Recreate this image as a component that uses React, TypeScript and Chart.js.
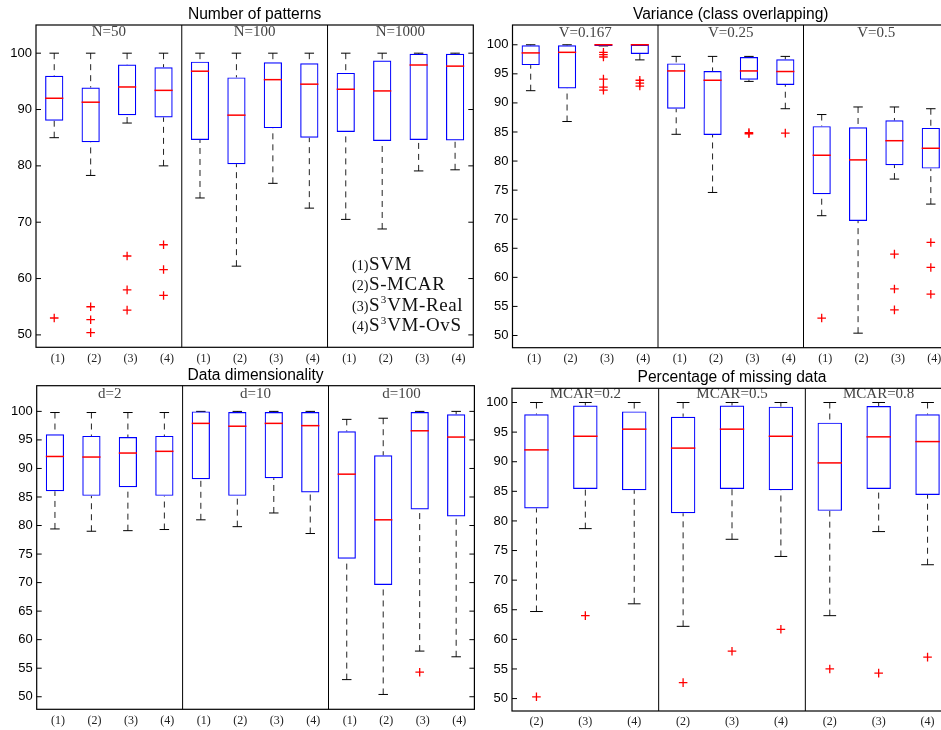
import { useEffect, useRef } from 'react';
import { Chart, registerables } from 'chart.js';

Chart.register(...registerables);

const SERIF = '"Liberation Serif", "DejaVu Serif", serif';
const SANS = '"Liberation Sans", Arial, sans-serif';

// tick labels under the boxes
const methodLabels = ['(1)', '(2)', '(3)', '(4)'];
const missingLabels = ['(2)', '(3)', '(4)'];
const ticksBy10 = [50, 60, 70, 80, 90, 100];
const ticksBy5 = [50, 55, 60, 65, 70, 75, 80, 85, 90, 95, 100];

// legend of the methods
const legendNums = ['(1)', '(2)', '(3)', '(4)'];
const legendBase = ['SVM', 'S-MCAR', 'S', 'S'];
const legendSup = ['', '', '3', '3'];
const legendRest = ['', '', 'VM-Real', 'VM-OvS'];

// Number of patterns
const patternTitle = 'Number of patterns';
const patternGroups = ['N=50', 'N=100', 'N=1000'];
const patternLow = [85, 78.3, 87.6, 80, 74.3, 62.2, 76.9, 72.5, 70.5, 68.8, 79.1, 79.3];
const patternQ1 = [88, 84.2, 89, 88.6, 84.6, 80.3, 86.7, 85, 86, 84.4, 84.6, 84.5];
const patternMed = [92, 91.3, 94, 93.4, 96.8, 89, 95.3, 94.5, 93.6, 93.3, 97.9, 97.7];
const patternQ3 = [96, 93.9, 98, 97.5, 98.5, 95.7, 98.4, 98.2, 96.5, 98.7, 99.9, 99.9];
const patternHigh = [100, 100, 100, 100, 100, 100, 100, 100, 100, 100, 100, 100];
const patternOut = [[53], [55, 52.7, 50.4], [64, 58, 54.4], [66, 61.6, 57], [], [], [], [], [], [], [], []];

// Variance (class overlapping)
const varTitle = 'Variance (class overlapping)';
const varGroups = ['V=0.167', 'V=0.25', 'V=0.5'];
const varLow = [92.1, 86.8, 99.8, 97.4, 84.6, 74.6, 93.7, 89, 70.6, 50.4, 76.9, 72.6];
const varQ1 = [96.5, 92.5, 99.8, 98.4, 89, 84.5, 94, 93.1, 74.3, 69.7, 79.3, 78.7];
const varMed = [98.6, 98.7, 100, 100, 95.5, 93.9, 95.5, 95.4, 81, 80.2, 83.5, 82.2];
const varQ3 = [99.9, 99.9, 100, 100, 96.8, 95.5, 97.9, 97.5, 86, 85.8, 87, 85.7];
const varHigh = [100, 100, 100, 100, 98, 98, 98, 98, 88, 89.3, 89.3, 89];
const varOut = [[], [], [98.7, 98.3, 97.9, 94.1, 92.7, 92.2], [93.9, 93.4, 92.9], [], [], [84.9, 84.7], [84.8], [53], [], [64, 58, 54.4], [66, 61.7, 57.1]];

// Data dimensionality
const dimTitle = 'Data dimensionality';
const dimGroups = ['d=2', 'd=10', 'd=100'];
const dimLow = [79.4, 79, 79.1, 79.3, 81, 79.8, 82.2, 78.6, 53, 50.4, 58, 57];
const dimQ1 = [86, 85.2, 86.7, 85.2, 88.1, 85.2, 88.3, 85.8, 74.2, 69.6, 82.8, 81.6];
const dimMed = [92.1, 92, 92.7, 93, 97.9, 97.4, 97.9, 97.5, 89, 81, 96.6, 95.5];
const dimQ3 = [96, 95.7, 95.5, 95.7, 100, 99.9, 99.9, 99.9, 96.5, 92.3, 99.9, 99.5];
const dimHigh = [99.8, 99.8, 99.8, 99.8, 100, 100, 100, 100, 98.6, 98.8, 100, 100];
const dimOut = [[], [], [], [], [], [], [], [], [], [], [54.3], []];

// Percentage of missing data
const missTitle = 'Percentage of missing data';
const missGroups = ['MCAR=0.2', 'MCAR=0.5', 'MCAR=0.8'];
const missLow = [64.7, 78.7, 66, 62.2, 76.9, 74, 64, 78.2, 72.6];
const missQ1 = [82.1, 85.4, 85.2, 81.3, 85.4, 85.2, 81.7, 85.4, 84.4];
const missMed = [92, 94.3, 95.5, 92.3, 95.5, 94.3, 89.8, 94.2, 93.4];
const missQ3 = [98, 99.5, 98.5, 97.6, 99.5, 99.3, 96.6, 99.4, 98];
const missHigh = [100, 100, 100, 100, 100, 100, 100, 100, 100];
const missOut = [[50.3], [64], [], [52.7], [58], [61.7], [55], [54.3], [57]];

// whiskers, caps, medians, separators, frame, titles and legend
const boxPlotParts = {
  id: 'boxPlotParts',
  beforeDatasetsDraw(chart: any, _args: any, o: any) {
    const { ctx } = chart;
    const x = chart.scales.x;
    const y = chart.scales.y;
    const capHalf = x.getPixelForValue(1.13) - x.getPixelForValue(1);
    ctx.save();
    ctx.lineWidth = 1;
    o.low.forEach((lo: number, i: number) => {
      const px = x.getPixelForValue(i + 1);
      ctx.strokeStyle = '#222';
      ctx.setLineDash([6, 5]);
      ctx.beginPath();
      if (o.high[i] > o.q3[i]) {
        ctx.moveTo(px, y.getPixelForValue(o.high[i]));
        ctx.lineTo(px, y.getPixelForValue(o.q3[i]));
      }
      if (lo < o.q1[i]) {
        ctx.moveTo(px, y.getPixelForValue(lo));
        ctx.lineTo(px, y.getPixelForValue(o.q1[i]));
      }
      ctx.stroke();
      ctx.setLineDash([]);
      ctx.strokeStyle = '#000';
      ctx.beginPath();
      [lo, o.high[i]].forEach((v) => {
        const py = y.getPixelForValue(v);
        ctx.moveTo(px - capHalf, py);
        ctx.lineTo(px + capHalf, py);
      });
      ctx.stroke();
    });
    ctx.restore();
  },
  afterDatasetsDraw(chart: any, _args: any, o: any) {
    const { ctx, chartArea } = chart;
    const x = chart.scales.x;
    const y = chart.scales.y;
    const half = x.getPixelForValue(1.25) - x.getPixelForValue(1);
    ctx.save();

    // medians
    ctx.strokeStyle = '#ff0000';
    ctx.lineWidth = 1.5;
    o.med.forEach((m: number, i: number) => {
      const px = x.getPixelForValue(i + 1);
      const py = y.getPixelForValue(m);
      ctx.beginPath();
      ctx.moveTo(px - half, py);
      ctx.lineTo(px + half, py);
      ctx.stroke();
    });

    // group separators and group names
    const per = o.perGroup;
    ctx.strokeStyle = '#000';
    ctx.lineWidth = 1;
    ctx.font = `15px ${SERIF}`;
    ctx.fillStyle = '#444';
    ctx.textAlign = 'center';
    ctx.textBaseline = 'middle';
    o.groups.forEach((g: string, gi: number) => {
      if (gi > 0) {
        const sx = x.getPixelForValue(gi * per + 0.5);
        ctx.beginPath();
        ctx.moveTo(sx, chartArea.top);
        ctx.lineTo(sx, chartArea.bottom);
        ctx.stroke();
      }
      const cx = x.getPixelForValue(gi * per + (per + 1) / 2);
      ctx.fillText(g, cx, chartArea.top + o.groupDy);
    });

    // frame and inward ticks
    ctx.lineWidth = 1.2;
    ctx.strokeRect(chartArea.left, chartArea.top, chartArea.right - chartArea.left, chartArea.bottom - chartArea.top);
    ctx.lineWidth = 1;
    ctx.beginPath();
    y.ticks.forEach((t: any) => {
      const py = y.getPixelForValue(t.value);
      ctx.moveTo(chartArea.left, py);
      ctx.lineTo(chartArea.left + 5, py);
      ctx.moveTo(chartArea.right, py);
      ctx.lineTo(chartArea.right - 5, py);
    });
    ctx.stroke();

    // title
    ctx.font = `15.6px ${SANS}`;
    ctx.fillStyle = '#000';
    ctx.textBaseline = 'alphabetic';
    ctx.fillText(o.title, (chartArea.left + chartArea.right) / 2, chartArea.top - 6);

    // legend
    if (o.legend) {
      ctx.textAlign = 'left';
      ctx.fillStyle = '#111';
      legendNums.forEach((num, i) => {
        const by = chartArea.top + 245 + i * 20.4;
        ctx.letterSpacing = '0px';
        ctx.font = `14px ${SERIF}`;
        ctx.fillText(num, chartArea.left + 316, by);
        let lx = chartArea.left + 333;
        ctx.letterSpacing = '0.6px';
        ctx.font = `19px ${SERIF}`;
        ctx.fillText(legendBase[i], lx, by);
        lx += ctx.measureText(legendBase[i]).width;
        if (legendSup[i]) {
          ctx.font = `11px ${SERIF}`;
          ctx.fillText(legendSup[i], lx + 0.5, by - 7.5);
          lx += ctx.measureText(legendSup[i]).width + 1;
          ctx.font = `19px ${SERIF}`;
          ctx.fillText(legendRest[i], lx, by);
        }
      });
      ctx.letterSpacing = '0px';
    }
    ctx.restore();
  },
};

interface PanelProps {
  title: string;
  groups: string[];
  labels: string[];
  yTicks: number[];
  low: number[];
  q1: number[];
  med: number[];
  q3: number[];
  high: number[];
  out: number[][];
  yMin: number;
  yMax: number;
  left: number;
  top: number;
  width: number;
  height: number;
  padTop: number;
  padRight: number;
  axisWidth: number;
  axisHeight: number;
  labelOffset: number;
  groupDy: number;
  legend?: boolean;
}

function BoxPanel(p: PanelProps) {
  const canvasRef = useRef<HTMLCanvasElement>(null);

  useEffect(() => {
    if (!canvasRef.current) return;
    const xs = p.low.map((_, i) => i + 1);
    const outliers: { x: number; y: number }[] = [];
    p.out.forEach((vals, i) => vals.forEach((v) => outliers.push({ x: i + 1, y: v })));

    const chart = new Chart(canvasRef.current, {
      type: 'bar',
      data: {
        datasets: [
          {
            type: 'bar',
            data: xs.map((x, i) => ({ x, y: [p.q1[i], p.q3[i]] })) as any,
            backgroundColor: 'rgba(0,0,0,0)',
            borderColor: '#0000ff',
            borderWidth: 1.2,
            borderSkipped: false,
            barPercentage: 0.5,
            categoryPercentage: 1,
            grouped: false,
          },
          {
            type: 'scatter',
            data: outliers as any,
            pointStyle: 'cross',
            pointRadius: 4.3,
            pointBorderColor: '#ff0000',
            pointBackgroundColor: '#ff0000',
            pointBorderWidth: 1.3,
          } as any,
        ],
      },
      options: {
        animation: false,
        responsive: false,
        layout: { padding: { top: p.padTop, right: p.padRight, left: 0, bottom: 0 } },
        plugins: {
          legend: { display: false },
          tooltip: { enabled: false },
          title: { display: false },
          boxPlotParts: {
            low: p.low,
            q1: p.q1,
            med: p.med,
            q3: p.q3,
            high: p.high,
            groups: p.groups,
            perGroup: p.labels.length,
            groupDy: p.groupDy,
            title: p.title,
            legend: !!p.legend,
          },
        } as any,
        scales: {
          x: {
            type: 'linear',
            min: 0.5,
            max: xs.length + 0.5,
            offset: false,
            grid: { display: false, drawTicks: false },
            border: { display: false },
            afterBuildTicks: (scale: any) => {
              scale.ticks = xs.map((v) => ({ value: v }));
            },
            afterFit: (scale: any) => {
              scale.height = p.axisHeight;
            },
            ticks: {
              autoSkip: false,
              maxRotation: 0,
              padding: 4,
              labelOffset: p.labelOffset,
              color: '#222',
              font: { family: SERIF, size: 12 },
              callback: (v: any) => p.labels[(Math.round(Number(v)) - 1) % p.labels.length],
            },
          },
          y: {
            type: 'linear',
            min: p.yMin,
            max: p.yMax,
            grid: { display: false, drawTicks: false },
            border: { display: false },
            afterBuildTicks: (scale: any) => {
              scale.ticks = p.yTicks.map((v) => ({ value: v }));
            },
            afterFit: (scale: any) => {
              scale.width = p.axisWidth;
            },
            ticks: {
              padding: 4,
              color: '#000',
              font: { family: SANS, size: 13 },
            },
          },
        },
      },
      plugins: [boxPlotParts],
    });

    return () => {
      chart.destroy();
    };
  }, []);

  return (
    <canvas
      ref={canvasRef}
      width={p.width}
      height={p.height}
      style={{ position: 'absolute', left: p.left, top: p.top, width: p.width, height: p.height }}
    />
  );
}

export default function App() {
  return (
    <div
      style={{
        position: 'fixed',
        left: 0,
        top: 0,
        width: 941,
        height: 730,
        overflow: 'hidden',
        background: '#fff',
      }}
    >
      <BoxPanel
        title={patternTitle}
        groups={patternGroups}
        labels={methodLabels}
        yTicks={ticksBy10}
        low={patternLow}
        q1={patternQ1}
        med={patternMed}
        q3={patternQ3}
        high={patternHigh}
        out={patternOut}
        yMin={47.8}
        yMax={105}
        left={0}
        top={0}
        width={480}
        height={370}
        padTop={25}
        padRight={6.7}
        axisWidth={36}
        axisHeight={22.7}
        labelOffset={3.5}
        groupDy={7.5}
        legend
      />
      <BoxPanel
        title={varTitle}
        groups={varGroups}
        labels={methodLabels}
        yTicks={ticksBy5}
        low={varLow}
        q1={varQ1}
        med={varMed}
        q3={varQ3}
        high={varHigh}
        out={varOut}
        yMin={47.9}
        yMax={103.4}
        left={470}
        top={0}
        width={490}
        height={370}
        padTop={25}
        padRight={11}
        axisWidth={42.5}
        axisHeight={22.3}
        labelOffset={3.5}
        groupDy={8.3}
      />
      <BoxPanel
        title={dimTitle}
        groups={dimGroups}
        labels={methodLabels}
        yTicks={ticksBy5}
        low={dimLow}
        q1={dimQ1}
        med={dimMed}
        q3={dimQ3}
        high={dimHigh}
        out={dimOut}
        yMin={47.8}
        yMax={104.5}
        left={0}
        top={360}
        width={480}
        height={370}
        padTop={25.7}
        padRight={5}
        axisWidth={36.7}
        axisHeight={20.7}
        labelOffset={3}
        groupDy={8.6}
      />
      <BoxPanel
        title={missTitle}
        groups={missGroups}
        labels={missingLabels}
        yTicks={ticksBy5}
        low={missLow}
        q1={missQ1}
        med={missMed}
        q3={missQ3}
        high={missHigh}
        out={missOut}
        yMin={47.9}
        yMax={102.4}
        left={470}
        top={360}
        width={490}
        height={370}
        padTop={28.3}
        padRight={8}
        axisWidth={42}
        axisHeight={19}
        labelOffset={0}
        groupDy={5.5}
      />
    </div>
  );
}
